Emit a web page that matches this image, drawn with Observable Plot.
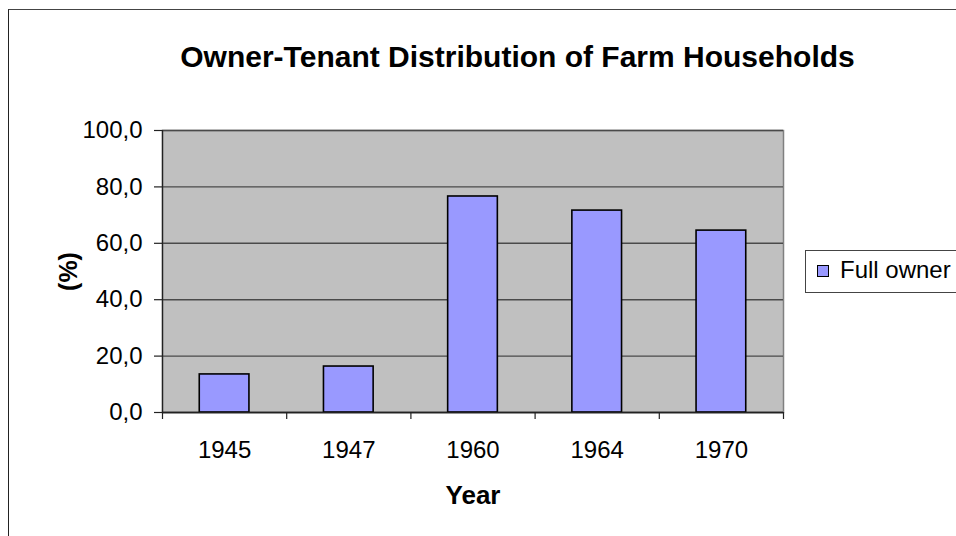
<!DOCTYPE html>
<html>
<head>
<meta charset="utf-8">
<script src="https://cdn.jsdelivr.net/npm/d3@7"></script>
<script src="https://cdn.jsdelivr.net/npm/@observablehq/plot@0.6"></script>
<style>
  html, body { margin: 0; padding: 0; background: #fff; overflow: hidden; width: 956px; height: 536px; }
  #wrap { position: relative; width: 956px; height: 536px; font-family: Arial, "Liberation Sans", sans-serif; }
  #frame { position: absolute; left: 8px; top: 9px; width: 1100px; height: 700px; border-left: 1.5px solid #222; border-top: 1.5px solid #444; }
  #title { position: absolute; left: 0; width: 1035px; top: 39px; text-align: center; font-weight: bold; font-size: 30px; color: #000; line-height: 36px; white-space: nowrap; }
  #legend { position: absolute; left: 805px; top: 250px; width: 200px; height: 41px; border: 1.5px solid #444; background: #fff; }
  #legend .sw { position: absolute; left: 11px; top: 14px; width: 10px; height: 10px; background: #9999FF; border: 1.5px solid #000; }
  #legend .lb { position: absolute; left: 34px; top: 5px; font-size: 24px; line-height: 28px; color: #000; white-space: nowrap; }
  svg { position: absolute; left: 0; top: 0; }
</style>
</head>
<body>
<div id="wrap">
  <div id="frame"></div>
  <div id="chart"></div>
  <div id="title"></div>
  <div id="legend"><div class="sw"></div><div class="lb"></div></div>
</div>
<script>
const titleText = "Owner-Tenant Distribution of Farm Households";
const years = ["1945", "1947", "1960", "1964", "1970"];
const fullOwner = [13.5, 16.3, 76.6, 71.6, 64.5];
const seriesName = "Full owner";
const yTicks = [0, 20, 40, 60, 80, 100];
const xLabel = "Year";
const yLabel = "(%)";

document.getElementById("title").textContent = titleText;
document.querySelector("#legend .lb").textContent = seriesName;

const data = years.map((y, i) => ({year: y, i, value: fullOwner[i]}));
const fmt = d => d.toFixed(1).replace(".", ",");
const n = years.length;

const chart = Plot.plot({
  width: 956,
  height: 536,
  marginLeft: 162,
  marginRight: 173,
  marginTop: 130,
  marginBottom: 124,
  style: {fontFamily: 'Arial, "Liberation Sans", sans-serif', fontSize: "24px", color: "#000", background: "transparent"},
  x: {domain: [0, n], axis: null},
  y: {domain: [0, 100], axis: null},
  marks: [
    Plot.frame({fill: "#C0C0C0", stroke: "#808080", strokeWidth: 1.5}),
    Plot.gridY(yTicks, {stroke: "#4a4a4a", strokeOpacity: 1, strokeWidth: 1.4}),
    Plot.rectY(data, {x1: d => d.i + 0.3, x2: d => d.i + 0.7, y1: 0, y2: "value", fill: "#9999FF", stroke: "#000", strokeWidth: 1.6}),
    Plot.ruleY([0], {stroke: "#222", strokeWidth: 1.3}),
    Plot.ruleX([0], {stroke: "#222", strokeWidth: 1.3}),
    Plot.axisY({ticks: yTicks, tickFormat: fmt, tickSize: 8, tickPadding: 12, stroke: "#222", strokeWidth: 1.2, fontSize: 24, label: null}),
    Plot.axisX({ticks: d3.range(0, n + 1), tickFormat: () => "", tickSize: 7, stroke: "#222", strokeWidth: 1.2, label: null}),
    Plot.axisX({ticks: d3.range(0, n).map(i => i + 0.5), tickFormat: v => years[Math.floor(v)], tickSize: 0, tickPadding: 28, fontSize: 24, label: null}),
    Plot.text([yLabel], {frameAnchor: "left", dx: -94, rotate: -90, fontWeight: "bold", fontSize: 25, lineAnchor: "middle", textAnchor: "middle"}),
    Plot.text([xLabel], {frameAnchor: "bottom", dy: 83, fontWeight: "bold", fontSize: 26, lineAnchor: "middle", textAnchor: "middle"})
  ]
});
document.getElementById("chart").appendChild(chart);
</script>
</body>
</html>
